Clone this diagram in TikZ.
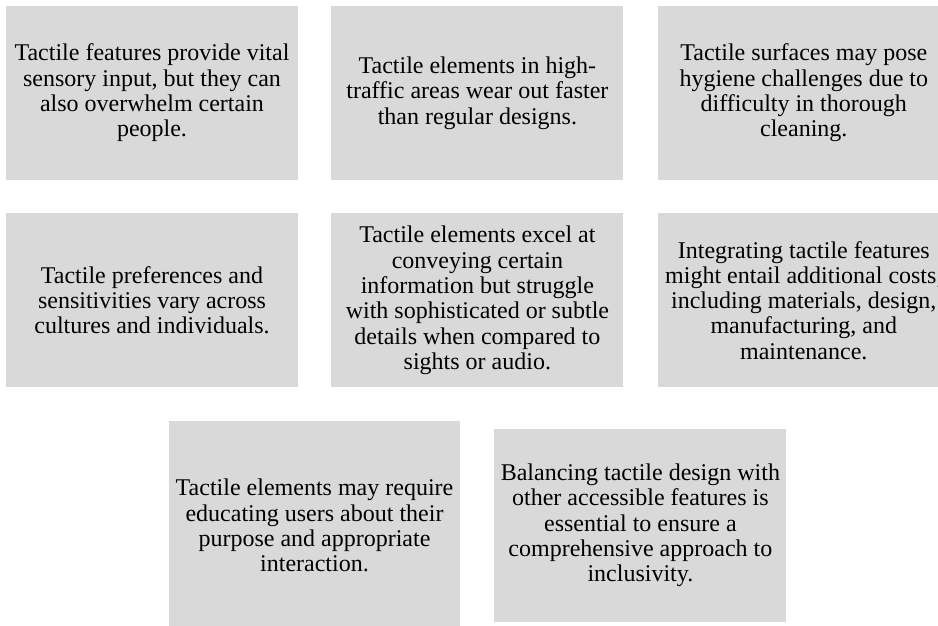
\documentclass[tikz,border=0pt]{standalone}
\usepackage{fontspec}
\setmainfont{Liberation Serif}
\usetikzlibrary{positioning}
\definecolor{cardgray}{HTML}{D9D9D9}

\begin{document}
\begin{tikzpicture}[x=1pt, y=-1pt, node distance=33pt, c/.style={fill=cardgray, minimum width=292pt, minimum height=174pt, inner sep=0pt, align=center, font=\fontsize{24}{25.3}\selectfont}]
		\useasboundingbox (0,0) rectangle (938,626);
		\clip (0,0) rectangle (938,626);
		\node[c] (sensory) at (152,93) {Tactile features provide vital\\sensory input, but they can\\also overwhelm certain\\people.};
		\node[c, right=of sensory] (wear) {Tactile elements in high-\\traffic areas wear out faster\\than regular designs.};
		\node[c, right=34pt of wear] (hygiene) {Tactile surfaces may pose\\hygiene challenges due to\\difficulty in thorough\\cleaning.};
		\node[c, below=of sensory] (culture) {Tactile preferences and\\sensitivities vary across\\cultures and individuals.};
		\node[c, below=of wear] (limits) {Tactile elements excel at\\conveying certain\\information but struggle\\with sophisticated or subtle\\details when compared to\\sights or audio.};
		\node[c, below=of hygiene] (cost) {Integrating tactile features\\might entail additional costs,\\including materials, design,\\manufacturing, and\\maintenance.};
		\node[c, minimum width=291pt, minimum height=209pt] (training) at (314.5,525.5) {Tactile elements may require\\educating users about their\\purpose and appropriate\\interaction.};
		\node[c, minimum height=193pt, right=34pt of training] (balance) {Balancing tactile design with\\other accessible features is\\essential to ensure a\\comprehensive approach to\\inclusivity.};
	\end{tikzpicture}
\end{document}
